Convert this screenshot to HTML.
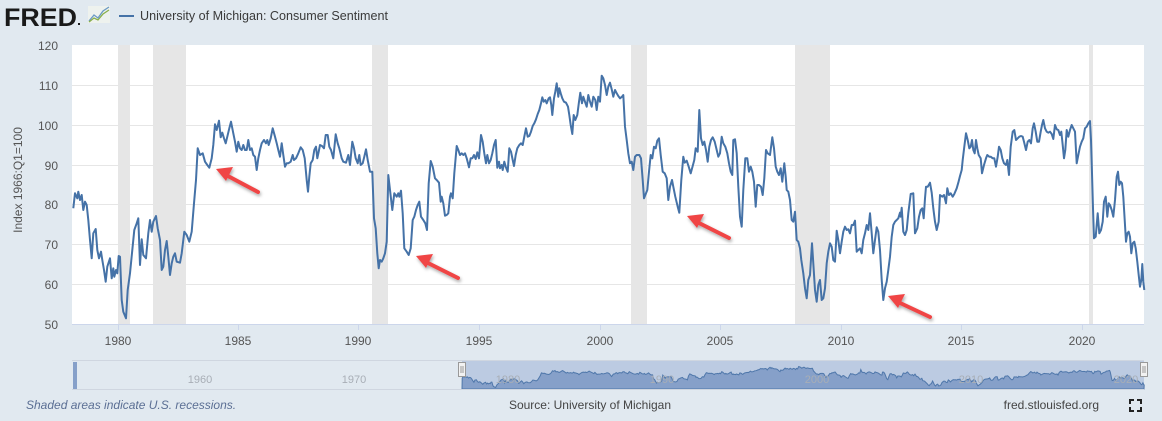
<!DOCTYPE html>
<html><head><meta charset="utf-8">
<style>
html,body{margin:0;padding:0;background:#e1e9f0;}
body{width:1162px;height:421px;overflow:hidden;position:relative;font-family:"Liberation Sans",sans-serif;}
svg{position:absolute;left:0;top:0;}
</style></head>
<body>
<svg id="s" width="1162" height="421" xmlns="http://www.w3.org/2000/svg">
<defs>
<filter id="sh" x="-20%" y="-50%" width="150%" height="250%"><feDropShadow dx="1" dy="2" stdDeviation="1.5" flood-color="#000" flood-opacity="0.35"/></filter>
</defs>
<!-- header -->
<text x="4" y="26" font-size="25" font-weight="bold" fill="#1a1a1a" textLength="73" lengthAdjust="spacingAndGlyphs" font-family="Liberation Sans, sans-serif">FRED</text>
<rect x="78" y="23" width="2" height="2" fill="#1a1a1a"/>
<g>
<rect x="88" y="6" width="22" height="17" fill="#eef2ee"/>
<polyline points="89,21 94,15 98,18 103,11 109,7" fill="none" stroke="#6b9ac4" stroke-width="1.3"/>
<polyline points="89,22 94,18 98,20 103,14 109,10" fill="none" stroke="#8ab04a" stroke-width="1.3"/>
</g>
<line x1="119" y1="16" x2="134" y2="16" stroke="#4572a7" stroke-width="2"/>
<text x="140" y="20" font-size="13" fill="#3a3a3a" textLength="248" lengthAdjust="spacingAndGlyphs">University of Michigan: Consumer Sentiment</text>
<!-- plot bg -->
<rect x="72" y="45" width="1072" height="280" fill="#ffffff"/>
<g id="rec" fill="#e6e6e6">
<rect x="118" y="45" width="12" height="280"/>
<rect x="153" y="45" width="33" height="280"/>
<rect x="372" y="45" width="16" height="280"/>
<rect x="631" y="45" width="16" height="280"/>
<rect x="795" y="45" width="35" height="280"/>
<rect x="1089" y="45" width="4" height="280"/>
</g>
<g stroke="#e6e6e6" stroke-width="1">
<line x1="72" y1="85.5" x2="1144" y2="85.5"/><line x1="72" y1="125.5" x2="1144" y2="125.5"/>
<line x1="72" y1="165.5" x2="1144" y2="165.5"/><line x1="72" y1="204.5" x2="1144" y2="204.5"/>
<line x1="72" y1="244.5" x2="1144" y2="244.5"/><line x1="72" y1="284.5" x2="1144" y2="284.5"/>
</g>
<line x1="72" y1="324.5" x2="1144" y2="324.5" stroke="#ccd6eb"/>
<g stroke="#ccd6eb">
<line x1="118.5" y1="325" x2="118.5" y2="330"/><line x1="238.5" y1="325" x2="238.5" y2="330"/>
<line x1="358.5" y1="325" x2="358.5" y2="330"/><line x1="479.5" y1="325" x2="479.5" y2="330"/>
<line x1="600.5" y1="325" x2="600.5" y2="330"/><line x1="720.5" y1="325" x2="720.5" y2="330"/>
<line x1="841.5" y1="325" x2="841.5" y2="330"/><line x1="961.5" y1="325" x2="961.5" y2="330"/>
<line x1="1082.5" y1="325" x2="1082.5" y2="330"/>
</g>
<g font-size="12" fill="#555" text-anchor="end">
<text x="58" y="50">120</text><text x="58" y="90">110</text><text x="58" y="130">100</text>
<text x="58" y="170">90</text><text x="58" y="209">80</text><text x="58" y="249">70</text>
<text x="58" y="289">60</text><text x="58" y="329">50</text>
</g>
<text transform="translate(22,180) rotate(-90)" font-size="12" fill="#555" text-anchor="middle">Index 1966:Q1=100</text>
<g font-size="12" fill="#555" text-anchor="middle">
<text x="118" y="345">1980</text><text x="238" y="345">1985</text><text x="358" y="345">1990</text>
<text x="479" y="345">1995</text><text x="600" y="345">2000</text><text x="720" y="345">2005</text>
<text x="841" y="345">2010</text><text x="961" y="345">2015</text><text x="1082" y="345">2020</text>
</g>
<path id="ln" fill="none" stroke="#4572a7" stroke-width="2" stroke-linejoin="round"/>
<!-- arrows -->
<g filter="url(#sh)" fill="#f04444" stroke="#f04444">
<line x1="258" y1="192" x2="226" y2="175" stroke-width="4" stroke-linecap="round"/>
<polygon points="216,169 233,167 226,181" stroke="none"/>
<line x1="458" y1="278" x2="426" y2="262" stroke-width="4" stroke-linecap="round"/>
<polygon points="416,256 433,254 426,268" stroke="none"/>
<line x1="729" y1="238" x2="697" y2="222" stroke-width="4" stroke-linecap="round"/>
<polygon points="687,216 704,214 697,228" stroke="none"/>
<line x1="930" y1="317" x2="898" y2="302" stroke-width="4" stroke-linecap="round"/>
<polygon points="888,296 905,294 898,308" stroke="none"/>
</g>
<!-- navigator -->
<line x1="72" y1="360.5" x2="1144" y2="360.5" stroke="#cfd6e0"/>
<rect x="462" y="361" width="682" height="28" fill="#bccbe2"/>
<path id="nav" fill="#86a0c9" stroke="#4f77aa" stroke-width="1"/>
<rect x="73" y="362" width="4" height="27" fill="#86a0c9"/>
<line x1="72" y1="389.5" x2="1144" y2="389.5" stroke="#cfd6e0"/>
<g font-size="11" fill="#a8aeb6" text-anchor="middle">
<text x="200" y="383">1960</text><text x="354" y="383">1970</text><text x="508" y="383">1980</text>
<text x="662" y="383">1990</text><text x="817" y="383">2000</text><text x="971" y="383">2010</text><text x="1126" y="383">2020</text>
</g>
<g>
<rect x="458.5" y="362.5" width="7" height="14" fill="#f2f2f2" stroke="#999"/>
<line x1="461" y1="366" x2="461" y2="373" stroke="#999"/><line x1="463" y1="366" x2="463" y2="373" stroke="#999"/>
<rect x="1140.5" y="362.5" width="7" height="14" fill="#f2f2f2" stroke="#999"/>
<line x1="1143" y1="366" x2="1143" y2="373" stroke="#999"/><line x1="1145" y1="366" x2="1145" y2="373" stroke="#999"/>
</g>
<!-- footer -->
<text x="26" y="409" font-size="12" font-style="italic" fill="#5b6f94">Shaded areas indicate U.S. recessions.</text>
<text x="590" y="409" font-size="12" fill="#444" text-anchor="middle">Source: University of Michigan</text>
<text x="1099" y="409" font-size="12" fill="#444" text-anchor="end">fred.stlouisfed.org</text>
<g stroke="#222" stroke-width="2" fill="none">
<polyline points="1130,404 1130,400 1134,400"/><polyline points="1137,400 1141,400 1141,404"/>
<polyline points="1130,407 1130,411 1134,411"/><polyline points="1137,411 1141,411 1141,407"/>
</g>
</svg>
<script>
var Z=[
[70,40,0,[10,505,15,460,22,475,25,455,30,480,35,465,40,510,45,485,50,495,55,540,60,600,65,655,70,580,77,567,82,630,87,655,93,635,97,660,102,690,107,725,112,680,120,655,125,715,130,685,133,710,138,690,142,700,146,648,150,650,155,780,160,815,168,835,173,750,180,700,187,630,193,570,200,550,205,535,210,675,215,598,220,645,228,655,235,580,240,540,245,575,250,545,258,528,263,565,270,600,275,690,280,680,285,630,290,603,295,650,300,705,305,670,310,650,315,640,320,665,330,668,335,640,343,575,350,585,358,605,365,575,372,490,378,420,383,325,390,345,398,340,405,365,412,375,418,383,425,355,430,315,435,253,440,270,447,242,452,292,457,278,462,295,467,310,472,290,478,265,483,245,490,280,495,305,500,335,505,305,510,325,515,330,520,315,525,330,530,330,535,300,540,330,545,325,550,345,555,350,560,390,565,355,570,330,575,310,582,300,588,310,592,300,596,315,602,295,608,265,615,290,620,310,625,330,630,350,635,310,640,345,645,380,650,370,655,370,662,365,668,345,672,360,678,355,685,340,692,322,698,330,704,355,710,420,714,455,718,410,722,370,728,360,733,330,738,320,742,355,746,335,750,315,756,318,762,325,767,285,773,285,778,320,783,330,790,355,797,283,803,310,808,325,815,355,820,365,828,368,835,345,840,375,847,305,852,325,857,355,863,370,868,345,872,375,878,370,883,350,888,328,893,360,900,395]],
[360,40,31,[0,340,5,375,10,350,15,345,20,328,25,360,30,390,37,395,42,535,47,565,52,640,56,685,60,660,65,665,70,655,75,640,80,605,85,405,90,450,97,510,103,460,110,470,115,460,118,470,123,452,128,520,133,625,140,635,146,645,152,625,158,540,163,530,168,510,173,495,178,485,183,530,190,540,196,550,201,570,206,430,212,363,218,380,225,415,230,420,237,428,242,485,245,470,250,490,255,527,260,525,265,520,270,470,273,460,278,475,283,400,290,318,295,330,300,345,305,340,310,345,315,340,320,355,327,382,332,355,337,355,342,345,347,357,352,337,357,355,363,285,368,305,373,340,378,370,382,345,387,370,392,360,397,340,402,315,407,300,412,383,417,365,420,385,425,375,428,390,433,365,437,380,443,395,448,325,453,335,458,360,462,378,467,345,472,325,478,315,483,310,488,315,493,290,498,265,503,290,508,288,513,275,518,258,523,250,528,238,533,222,538,210,543,190,547,172,551,185,556,180,560,190,566,175,570,172,574,195,577,225,582,175,586,155,590,130,595,170,598,145,602,160,607,175,612,185,618,188,624,200,628,225,632,255,637,282,641,225,646,240,652,225,657,185,661,158,666,190,670,170,676,188,680,200,685,165,690,185,695,200,700,170,706,180,710,210,715,170,720,185,725,107,730,115,735,135,740,165,745,140,750,128,755,148,760,170,765,150,770,160,775,168,780,175,786,170,790,165,795,260,800,300,805,340,810,370,815,365,820,390,825,350,830,345,838,345,843,355,848,420,852,475,856,465,862,450,867,395,872,345,877,355,882,320,887,325,892,302,897,295]],
[640,40,59,[0,350,5,355,10,475,15,460,22,445,28,390,33,340,38,355,43,310,48,330,53,305,57,295,62,345,68,395,74,400,80,415,85,480,90,440,96,420,100,440,106,470,113,500,118,518,124,420,130,350,134,368,140,362,146,380,152,400,158,378,163,360,167,325,173,335,178,210,183,295,188,315,193,305,198,330,203,365,208,320,213,300,218,292,224,305,230,330,235,350,240,340,245,290,250,310,256,320,262,340,267,370,272,395,277,405,280,300,285,298,290,340,295,440,300,530,305,560,310,450,316,355,322,355,327,395,332,380,337,395,342,425,347,500,352,435,357,435,363,440,368,465,373,415,378,330,383,340,390,345,397,292,402,325,407,380,412,395,417,405,422,385,427,425,433,370,437,410,440,450,445,455,450,480,455,540,460,545,465,515,470,600,475,605,480,625,484,660,490,700,495,745,500,775,505,720,510,705,516,610,520,670,525,750,530,785,535,735,540,720,545,780,550,775,555,745,560,670,565,635,570,610,575,620,580,660,585,665,590,572,595,600,600,640,605,605,610,575,615,560,620,570,625,568,630,580,635,555,640,555,645,542,650,635,655,630,660,625,665,640,670,600,675,580,680,555,685,570,690,520,695,580,700,640,705,600,710,562,715,575,720,630,725,720,730,780,735,745,740,725,745,690,750,650,755,590,760,555,765,545,770,540,775,535,780,518]],
[890,40,31,[0,690,5,600,10,550,18,545,25,535,32,530,35,503,40,575,45,585,50,570,55,520,62,462,70,460,75,580,82,565,87,530,92,510,97,505,101,535,105,475,108,440,113,440,120,428,125,458,130,505,135,545,140,570,146,545,150,465,157,470,162,465,168,490,172,445,177,465,182,460,188,470,193,462,200,445,205,428,210,408,215,390,218,360,223,320,228,280,233,300,238,325,242,320,246,300,250,330,254,340,258,300,262,325,266,345,272,355,276,400,282,375,288,355,292,345,298,350,302,350,308,355,313,355,318,380,323,350,327,320,332,330,337,355,342,370,348,375,352,360,357,405,362,320,368,275,373,270,378,300,383,295,388,290,393,288,398,290,402,305,408,330,413,305,418,300,423,310,428,265,432,250,437,275,442,305,447,305,452,275,456,255,460,240,465,265,470,275,475,278,480,275,485,282,490,297,495,255,500,268,505,270,510,285,514,275,518,315,522,355,526,330,530,270,535,290,540,270,545,255,550,265,555,275,560,370,565,345,570,320,575,305,580,295,585,265,590,260,595,250,600,243,603,300,606,400,609,505,612,595,617,590,620,555,623,520,628,580,633,570,638,545,642,485,647,470,652,530,656,490,660,495,665,510,670,530,675,480,680,410,684,395,688,435,692,425,696,430,700,470,704,540,708,605,712,580,716,575,720,590,724,640,728,610,733,605,737,625,742,665,746,705,750,740,754,720,757,672,760,725,763,750]]
];
var P=[];
Z.forEach(function(z){var a=z[3];for(var i=0;i<a.length;i+=2){if(a[i]<z[2])continue;P.push([z[0]+a[i]/3,z[1]+a[i+1]/3]);}});
var d='';P.forEach(function(p,i){d+=(i?'L':'M')+p[0].toFixed(1)+' '+p[1].toFixed(1);});
document.getElementById('ln').setAttribute('d',d);
var n='M462 389';P.forEach(function(p){var x=462+(p[0]-73)*(682/1071);var y=364+(p[1]-45)*(24/280);n+='L'+x.toFixed(1)+' '+y.toFixed(1);});
n+='L1144 389Z';document.getElementById('nav').setAttribute('d',n);
</script>
</body></html>
